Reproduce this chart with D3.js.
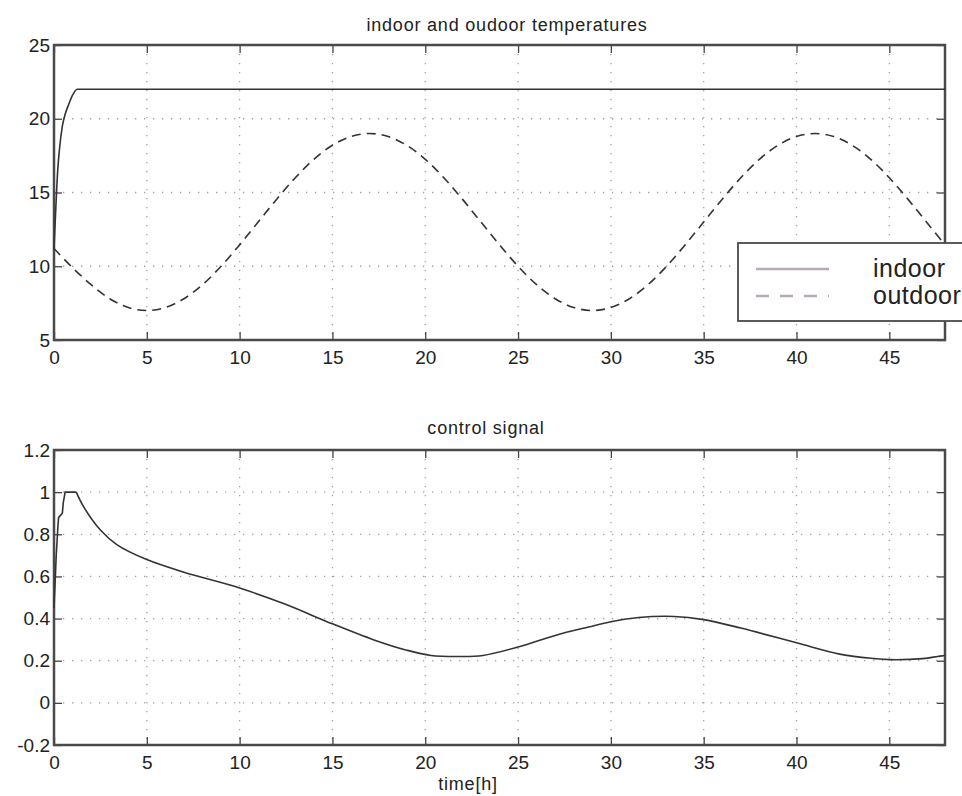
<!DOCTYPE html>
<html><head><meta charset="utf-8">
<script src="https://cdn.jsdelivr.net/npm/d3@7"></script>
<style>
html,body{margin:0;padding:0;background:#fff;}
svg{display:block;}
text{font-family:"Liberation Sans",Arial,Helvetica,sans-serif;fill:#222;}
</style></head>
<body>
<svg id="chart" width="962" height="796"></svg>
<script>
// ---- data ----
const xTicks = [0,5,10,15,20,25,30,35,40,45];
const tempTicks = [5,10,15,20,25];
const ctrlTicks = [-0.2,0,0.2,0.4,0.6,0.8,1,1.2];
const ctrlTickLabels = ["-0.2","0","0.2","0.4","0.6","0.8","1","1.2"];

const indoorTime = [0,0.1,0.2,0.3,0.45,0.6,0.8,1.0,1.25,48];
const indoorTemp = [11.2,14,16.5,18,19.5,20.3,21,21.6,22,22];

const outdoorTime = [0,1,2,3,4,5,6,7,8,9,10,11,12,13,14,15,16,17,18,19,20,21,22,23,24,25,26,27,28,29,30,31,32,33,34,35,36,37,38,39,40,41,42,43,44,45,46,47,48];
const outdoorTemp = [11.2,9.9,8.75,7.8,7.2,7.0,7.2,7.8,8.75,10.0,11.45,13.0,14.55,16.0,17.25,18.2,18.8,19.0,18.8,18.2,17.25,16.0,14.55,13.0,11.45,10.0,8.75,7.8,7.2,7.0,7.2,7.8,8.75,10.0,11.45,13.0,14.55,16.0,17.25,18.2,18.8,19.0,18.8,18.2,17.25,16.0,14.55,13.0,11.45];

// start-up steps of the control signal (t <= 1.2 h)
const ctrlStartTime = [0,0.05,0.12,0.22,0.25,0.45,0.5,0.6,1.2];
const ctrlStartValue = [0.45,0.55,0.7,0.85,0.88,0.9,0.95,1,1];
// smooth part of the control signal
const ctrlTime = [1.2,1.6,2.5,3.4,5,7,10,12.4,15,17.2,19,20.3,21.9,23.1,25,27,28.8,30,31.5,33.4,35,37,40,42.4,44.2,45,46.8,47.6,48];
const ctrlValue = [1,0.93,0.82,0.75,0.68,0.62,0.545,0.47,0.375,0.30,0.25,0.225,0.22,0.225,0.265,0.32,0.36,0.385,0.405,0.41,0.395,0.355,0.285,0.23,0.21,0.205,0.21,0.22,0.225];

const legendLabels = ["indoor","outdoor"];

// ---- drawing ----
const svg = d3.select("#chart");
const x = d3.scaleLinear().domain([0,48]).range([54,945]);

function panel(y, yTicks, yLabels, title, titleX, titleY) {
  const g = svg.append("g");
  const [y0, y1] = y.range(); // bottom, top
  const xl = x.range()[0], xr = x.range()[1];
  const grid = g.append("g").attr("stroke","#a0a0a0").attr("stroke-width",1.3).attr("stroke-dasharray","1.3,7.7");
  xTicks.filter(v => v>0 && v<48).forEach(v => {
    grid.append("line").attr("x1",x(v)).attr("x2",x(v)).attr("y1",y1).attr("y2",y0);
  });
  yTicks.filter(v => v>y.domain()[0] && v<y.domain()[1]).forEach(v => {
    grid.append("line").attr("x1",xl).attr("x2",xr).attr("y1",y(v)).attr("y2",y(v));
  });
  const ax = [
    g.append("g").attr("transform",`translate(0,${y0})`).call(d3.axisBottom(x).tickValues(xTicks).tickSize(-8).tickPadding(11).tickFormat(d3.format("d"))),
    g.append("g").attr("transform",`translate(0,${y1})`).call(d3.axisTop(x).tickValues(xTicks).tickSize(-8).tickFormat("")),
    g.append("g").attr("transform",`translate(${xl},0)`).call(d3.axisLeft(y).tickValues(yTicks).tickSize(-8).tickPadding(4).tickFormat((d,i)=>yLabels[i])),
    g.append("g").attr("transform",`translate(${xr},0)`).call(d3.axisRight(y).tickValues(yTicks).tickSize(-8).tickFormat(""))
  ];
  ax.forEach(a => {
    a.select(".domain").remove();
    a.selectAll(".tick line").attr("stroke","#444").attr("stroke-width",1.3);
    a.selectAll("text").attr("font-size","19px").attr("fill","#222")
      .attr("font-family",'"Liberation Sans",Arial,sans-serif');
  });
  g.append("rect").attr("x",xl).attr("y",y1).attr("width",xr-xl).attr("height",y0-y1)
    .attr("fill","none").attr("stroke","#4a4a4a").attr("stroke-width",2.5);
  g.append("text").attr("x",titleX).attr("y",titleY).attr("text-anchor","middle")
    .attr("font-size","18px").attr("letter-spacing","0.8px").text(title);
  return g;
}

const yT = d3.scaleLinear().domain([5,25]).range([340,45]);
const yC = d3.scaleLinear().domain([-0.2,1.2]).range([745,450]);

const g1 = panel(yT, tempTicks, tempTicks.map(String), "indoor and oudoor temperatures", 507, 31);
const g2 = panel(yC, ctrlTicks, ctrlTickLabels, "control signal", 486, 434);

const lineM = d3.line().curve(d3.curveMonotoneX);
const lineS = d3.line().curve(d3.curveCatmullRom.alpha(0.5));
const lineL = d3.line();

g1.append("path")
  .attr("d", lineM(indoorTime.map((t,i)=>[x(t), yT(indoorTemp[i])])))
  .attr("fill","none").attr("stroke","#333").attr("stroke-width",1.6);
g1.append("path")
  .attr("d", lineS(outdoorTime.map((t,i)=>[x(t), yT(outdoorTemp[i])])))
  .attr("fill","none").attr("stroke","#333").attr("stroke-width",1.6).attr("stroke-dasharray","9,6");

g2.append("path")
  .attr("d", lineL(ctrlStartTime.map((t,i)=>[x(t), yC(ctrlStartValue[i])])))
  .attr("fill","none").attr("stroke","#333").attr("stroke-width",1.6);
g2.append("path")
  .attr("d", lineS(ctrlTime.map((t,i)=>[x(t), yC(ctrlValue[i])])))
  .attr("fill","none").attr("stroke","#333").attr("stroke-width",1.6);

// legend
const lg = svg.append("g");
lg.append("rect").attr("x",738).attr("y",243).attr("width",240).attr("height",78)
  .attr("fill","#fff").attr("stroke","#4a4a4a").attr("stroke-width",1.8);
const legY = [269, 296];
const dashes = [null, "13,11"];
legendLabels.forEach((lab,i) => {
  lg.append("line").attr("x1",756).attr("x2",829).attr("y1",legY[i]).attr("y2",legY[i])
    .attr("stroke","#b7aab7").attr("stroke-width",2.5).attr("stroke-dasharray",dashes[i]);
  lg.append("text").attr("x",873).attr("y",legY[i]+8).attr("font-size","25px")
    .attr("letter-spacing","0.5px").text(lab);
});

svg.append("text").attr("x",468).attr("y",790).attr("text-anchor","middle")
  .attr("font-size","18px").attr("letter-spacing","0.8px").text("time[h]");
</script>
</body></html>
